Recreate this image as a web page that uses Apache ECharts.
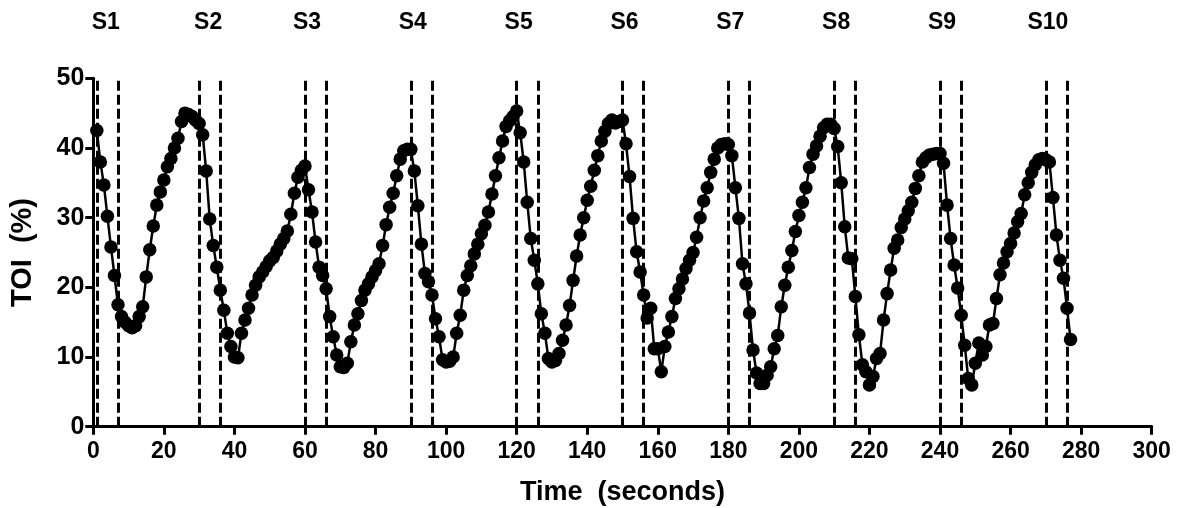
<!DOCTYPE html>
<html>
<head>
<meta charset="utf-8">
<script src="https://cdn.jsdelivr.net/npm/echarts@6/dist/echarts.min.js"></script>
<style>
html,body{margin:0;padding:0;background:#fff;}
#chart{width:1186px;height:508px;}
</style>
</head>
<body>
<div id="chart"></div>
<script>
// Sampling: one TOI reading per second, first reading at t = 1 s
const startTime = 1;
const samplePeriod = 1;
const toiValues = [
  42.5, 38, 34.7, 30.2, 25.8, 21.7, 17.5, 15.8, 15, 14.5,
  14.2, 14.5, 15.8, 17.2, 21.5, 25.4, 28.8, 31.8, 33.7, 35.4,
  37.3, 38.5, 40, 41.4, 43.8, 45, 44.8, 44.5, 44, 43.5,
  41.9, 36.7, 29.8, 26, 22.9, 19.6, 16.7, 13.4, 11.5, 10,
  9.9, 13.4, 15.3, 17, 18.9, 20.3, 21.5, 22.2, 23, 23.8,
  24.3, 25.2, 26.2, 27, 28.1, 30.5, 33.5, 35.8, 36.8, 37.4,
  34, 30.8, 26.5, 22.9, 21.7, 19.8, 15.8, 12.9, 10.3, 8.6,
  8.5, 9.1, 12.2, 14.6, 16.2, 18.1, 19.6, 20.5, 21.5, 22.4,
  23.4, 26, 29, 31.5, 33.5, 36, 38.4, 39.6, 39.8, 39.8,
  36.7, 31.7, 26.2, 22, 20.8, 18.9, 15.5, 12.9, 9.6, 9.3,
  9.4, 10, 13.4, 16, 19.6, 21.7, 23.1, 24.8, 26.2, 27.7,
  28.9, 30.8, 33.4, 36, 38.6, 41, 43.1, 43.9, 44.5, 45.3,
  42.2, 38, 32.2, 27, 23.9, 20.5, 16.2, 13.4, 9.8, 9.3,
  9.5, 10.5, 12.4, 14.6, 17.4, 21, 24.5, 27.5, 30, 32.5,
  34.5, 36.8, 38.9, 41, 42.4, 43.5, 44, 43.6, 43.8, 44,
  40.6, 35.9, 29.9, 25.1, 22.2, 18.9, 15.6, 17, 11.2, 11.2,
  7.9, 11.5, 13.6, 15.8, 18.4, 19.8, 21.2, 22.7, 23.9, 25,
  27.2, 30, 32.4, 34.3, 36.5, 38.4, 40, 40.5, 40.6, 40.5,
  38.9, 34.3, 29.9, 23.4, 20.5, 16.3, 11, 7.7, 6.2, 6.2,
  7.4, 8.6, 11.2, 13.1, 17.2, 20.3, 22.9, 25.3, 28, 30.3,
  32.2, 34.3, 37.2, 39.1, 40.3, 41.7, 42.9, 43.4, 43.4, 42.8,
  40.2, 35, 28.7, 24.2, 24.1, 18.7, 13.2, 8.9, 7.9, 6,
  7.2, 9.8, 10.5, 15.3, 19.1, 22.5, 25.6, 26.8, 28.6, 29.8,
  31, 32.2, 34.2, 36, 38, 38.6, 39, 39.1, 39.2, 39.2,
  37.8, 31.8, 27, 23.2, 19.9, 16, 11.7, 6.9, 6, 9.1,
  12, 10.3, 11.5, 14.6, 14.8, 18.4, 21.8, 23.5, 25.1, 26.3,
  27.8, 29.4, 30.6, 33.3, 35, 36.5, 37.6, 38.3, 38.5, 38.3,
  38, 32.9, 27.5, 23.9, 21.3, 17, 12.5
];
// Stimulus markers (seconds): start and end of each stimulus
const stimulusLabels = ['S1','S2','S3','S4','S5','S6','S7','S8','S9','S10'];
const stimulusStart = [1, 30, 60, 90, 120, 150, 180, 210, 240, 270];
const stimulusEnd   = [7, 36, 66, 96, 126, 156, 186, 216, 246, 276];
const xTicks = {min: 0, max: 300, interval: 20};
const yTicks = {min: 0, max: 50, interval: 10};

const FONT = 'Liberation Sans, Arial, sans-serif';
const seriesData = toiValues.map((v, i) => [startTime + i * samplePeriod, v]);

const labelShift = {S1: 9, S2: 9};
const markData = [];
stimulusLabels.forEach((name, i) => {
  markData.push({
    xAxis: stimulusStart[i],
    label: {show: true, formatter: name, offset: [labelShift[name] || 2, 0]}
  });
  markData.push({xAxis: stimulusEnd[i], label: {show: false}});
});

const chart = echarts.init(document.getElementById('chart'), null, {renderer: 'canvas'});
chart.setOption({
  backgroundColor: '#fff',
  animation: false,
  grid: {left: 93.3, right: 34.3, top: 78.3, bottom: 81.3, containLabel: false, outerBoundsMode: 'none'},
  xAxis: {
    type: 'value', min: xTicks.min, max: xTicks.max, interval: xTicks.interval,
    name: 'Time  (seconds)', nameLocation: 'middle', nameGap: 52,
    nameTextStyle: {fontFamily: FONT, fontWeight: 'bold', fontSize: 27, color: '#000'},
    axisLine: {show: true, lineStyle: {color: '#000', width: 3}},
    axisTick: {show: true, length: 8, lineStyle: {color: '#000', width: 3}},
    axisLabel: {fontFamily: FONT, fontWeight: 'bold', fontSize: 23, color: '#000', margin: 13},
    splitLine: {show: false}
  },
  yAxis: {
    type: 'value', min: yTicks.min, max: yTicks.max, interval: yTicks.interval,
    name: 'TOI  (%)', nameLocation: 'middle', nameGap: 56, nameRotate: 90,
    nameTextStyle: {fontFamily: FONT, fontWeight: 'bold', fontSize: 29, color: '#000'},
    axisLine: {show: true, lineStyle: {color: '#000', width: 3}},
    axisTick: {show: true, length: 8, lineStyle: {color: '#000', width: 3}},
    axisLabel: {fontFamily: FONT, fontWeight: 'bold', fontSize: 25, color: '#000', margin: 9},
    splitLine: {show: false}
  },
  series: [
    {
      type: 'line',
      data: seriesData,
      symbol: 'circle',
      symbolSize: 13.5,
      showAllSymbol: true,
      itemStyle: {color: '#000'},
      lineStyle: {color: '#000', width: 2.5},
      z: 3,
      markLine: {
        silent: true,
        symbol: ['none', 'none'],
        animation: false,
        lineStyle: {color: '#000', width: 3, type: [10, 4]},
        label: {
          position: 'end', distance: 44,
          fontFamily: FONT, fontWeight: 'bold', fontSize: 23, color: '#000'
        },
        data: markData
      }
    }
  ]
});
</script>
</body>
</html>
